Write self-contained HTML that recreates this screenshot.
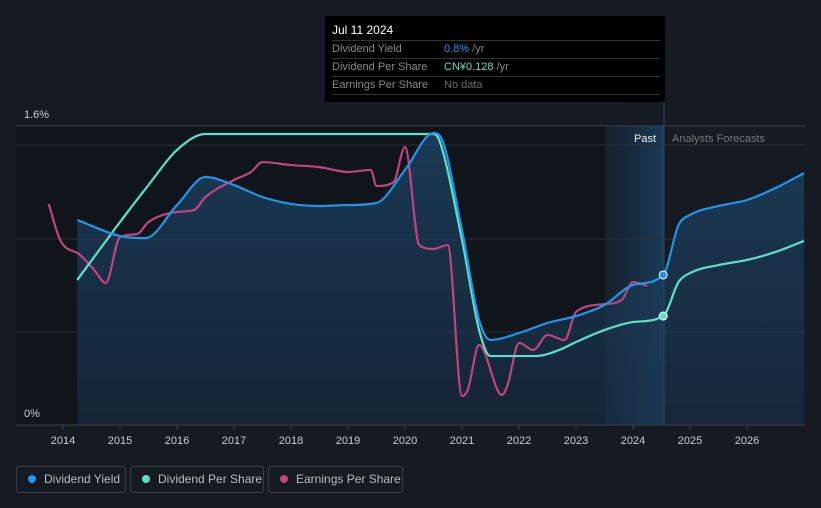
<!DOCTYPE html>
<html><head><meta charset="utf-8"><style>
html,body{margin:0;padding:0;background:#151a23;width:821px;height:508px;overflow:hidden;font-family:"Liberation Sans",sans-serif}
#tip{position:absolute;left:325px;top:16px;width:340px;height:86px;background:#000;padding:4px 5px 0 7px;color:#ccc;font-size:11px;box-sizing:border-box}
#tip .t{color:#fff;font-size:12px;height:20px;line-height:21px;border-bottom:1px solid #333}
#tip .r{height:17px;line-height:17px;border-bottom:1px solid #333;color:#888;position:relative}
#tip .r span{position:absolute;left:112px;top:0}
.leg{position:absolute;top:466px;height:27px;border:1px solid #3a3f48;border-radius:3px;color:#bbb;font-size:12px;line-height:25px;box-sizing:border-box;white-space:nowrap}
.leg i{display:inline-block;width:8px;height:8px;border-radius:50%;margin:0 8px 0 11px}
</style></head><body>
<svg id="c" width="821" height="508" style="position:absolute;left:0;top:0"></svg>
<div id="tip">
<div class="t">Jul 11 2024</div>
<div class="r">Dividend Yield<span><b style="color:#2196e8;font-weight:normal">0.8%</b> /yr</span></div>
<div class="r">Dividend Per Share<span><b style="color:#5de0c8;font-weight:normal">CN¥0.128</b> /yr</span></div>
<div class="r">Earnings Per Share<span style="color:#666">No data</span></div>
</div>
<div class="leg" style="left:16px;width:110px"><i style="background:#2196e8"></i>Dividend Yield</div>
<div class="leg" style="left:130px;width:134px"><i style="background:#5de0c8"></i>Dividend Per Share</div>
<div class="leg" style="left:268px;width:135px"><i style="background:#c2447f"></i>Earnings Per Share</div>
<script>
const yieldT=[2014.25,2015,2015.45,2016,2016.5,2017,2017.5,2018,2018.5,2019,2019.5,2020,2020.5,2020.6,2021,2021.3,2021.5,2022,2022.5,2023,2023.5,2024,2024.53,2024.8,2025,2025.5,2026,2026.5,2027];
const yieldV=[1.097,1.011,1.0,1.177,1.327,1.284,1.22,1.183,1.172,1.177,1.188,1.365,1.562,1.552,1.043,0.562,0.455,0.492,0.546,0.583,0.642,0.749,0.803,1.07,1.124,1.172,1.204,1.268,1.348];
const dpsT=[2014.25,2015,2015.5,2016,2016.5,2020.5,2020.6,2021,2021.3,2021.5,2022.3,2022.7,2023,2023.5,2024,2024.53,2024.8,2025,2025.5,2026,2026.5,2027];
const dpsV=[0.776,1.086,1.284,1.472,1.557,1.557,1.525,0.99,0.508,0.369,0.369,0.401,0.444,0.508,0.551,0.583,0.765,0.813,0.856,0.883,0.926,0.985];
const epsT=[2013.75,2013.95,2014.3,2014.55,2014.75,2015,2015.3,2015.5,2016,2016.3,2016.5,2017,2017.3,2017.5,2018,2018.5,2019,2019.4,2019.5,2019.8,2020,2020.25,2020.5,2020.75,2021,2021.1,2021.3,2021.7,2021.8,2022,2022.25,2022.5,2022.8,2023,2023.5,2023.8,2024,2024.25];
const epsV=[1.183,0.99,0.91,0.829,0.76,1.006,1.022,1.086,1.14,1.15,1.22,1.311,1.354,1.407,1.391,1.38,1.354,1.365,1.279,1.3,1.488,0.963,0.942,0.963,0.155,0.187,0.428,0.161,0.214,0.439,0.401,0.482,0.455,0.605,0.647,0.669,0.765,0.744];
const years=[2014,2015,2016,2017,2018,2019,2020,2021,2022,2023,2024,2025,2026];
const X=t=>63+57*(t-2014), Y=v=>425-v/1.6*299;
const svg=document.getElementById('c'),NS='http://www.w3.org/2000/svg';
function el(tag,a,p){const e=document.createElementNS(NS,tag);for(const k in a)e.setAttribute(k,a[k]);(p||svg).appendChild(e);return e;}
const defs=el('defs',{});
const g=el('linearGradient',{id:'fg',x1:0,y1:0,x2:0,y2:1},defs);
el('stop',{offset:0,'stop-color':'#1b4160','stop-opacity':0.85},g);el('stop',{offset:1,'stop-color':'#1b3550','stop-opacity':0.5},g);
const g2=el('linearGradient',{id:'pb',x1:0,y1:0,x2:1,y2:0},defs);
el('stop',{offset:0,'stop-color':'#1a3a55','stop-opacity':0.2},g2);el('stop',{offset:1,'stop-color':'#1a4a6e','stop-opacity':0.7},g2);
let r=el('rect',{x:16,y:126,width:589,height:299,fill:'#10141b'});
el('rect',{x:605,y:126,width:59,height:299,fill:'url(#pb)'});
[145,239,332].forEach(y=>el('line',{x1:16,x2:805,y1:y,y2:y,stroke:'#2a303a','stroke-width':1}));
el('line',{x1:16,x2:805,y1:126,y2:126,stroke:'#3a404a'});
el('line',{x1:16,x2:805,y1:425,y2:425,stroke:'#3a404a'});
function path(T,V){const p=T.map((t,i)=>[X(t),Y(V[i])]);const n=p.length;
const d=[],m=new Array(n);for(let i=0;i<n-1;i++)d.push((p[i+1][1]-p[i][1])/(p[i+1][0]-p[i][0]));
m[0]=d[0];m[n-1]=d[n-2];for(let i=1;i<n-1;i++){m[i]=(d[i-1]*d[i]<=0)?0:(d[i-1]+d[i])/2;}
for(let i=0;i<n-1;i++){if(d[i]===0){m[i]=0;m[i+1]=0;continue;}const a=m[i]/d[i],b=m[i+1]/d[i],s=a*a+b*b;if(s>9){const t=3/Math.sqrt(s);m[i]=t*a*d[i];m[i+1]=t*b*d[i];}}
let s='M'+p[0][0]+','+p[0][1];
for(let i=0;i<n-1;i++){const h=(p[i+1][0]-p[i][0])/3;s+=`C${p[i][0]+h},${p[i][1]+m[i]*h} ${p[i+1][0]-h},${p[i+1][1]-m[i+1]*h} ${p[i+1][0]},${p[i+1][1]}`;}return s;}
const yd=path(yieldT,yieldV);
let f=el('path',{d:yd+`L${X(yieldT[yieldT.length-1])},425L${X(yieldT[0])},425Z`,fill:'url(#fg)'});

el('line',{x1:664,x2:664,y1:102,y2:425,stroke:'#2a4a66','stroke-width':1});
let l1=el('path',{d:path(epsT,epsV),fill:'none',stroke:'#c2447f','stroke-width':2.2});

let l2=el('path',{d:path(dpsT,dpsV),fill:'none',stroke:'#5de0c8','stroke-width':2.2});

let l3=el('path',{d:yd,fill:'none',stroke:'#2196e8','stroke-width':2.2});

let m1=el('circle',{cx:X(2024.53),cy:Y(yieldV[22]),r:4,fill:'#2196e8',stroke:'#fff','stroke-width':1});

let m2=el('circle',{cx:X(2024.53),cy:Y(dpsV[15]),r:4,fill:'#5de0c8',stroke:'#fff','stroke-width':1});

function txt(x,y,s,a){const t=el('text',Object.assign({x:x,y:y,'font-size':11,fill:'#ccc','font-family':'Liberation Sans, sans-serif'},a||{}));t.textContent=s;return t;}
years.forEach(yr=>{el('line',{x1:X(yr),x2:X(yr),y1:425,y2:430,stroke:'#3a404a'});let t=txt(X(yr),444,String(yr),{'text-anchor':'middle'});});
let a=txt(24,118,'1.6%');
let b=txt(24,417,'0%');
let p=txt(656,142,'Past',{'text-anchor':'end',fill:'#eee'});
let q=txt(672,142,'Analysts Forecasts',{fill:'#777'});
</script>
</body></html>
